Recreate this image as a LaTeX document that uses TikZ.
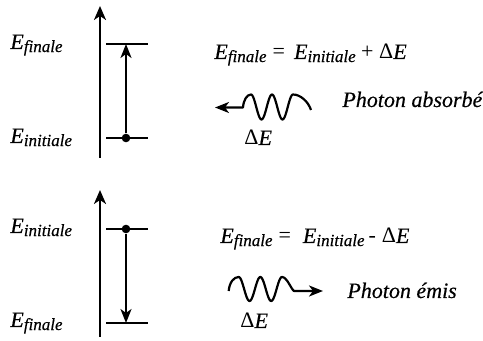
\documentclass[tikz,border=0pt]{standalone}
\usepackage{fontspec}
\setmainfont{Liberation Serif}[ItalicFeatures={FakeBold=0.4}]
\usepackage{tikz}
\usetikzlibrary{arrows.meta}
\newcommand{\Esub}[1]{\textit{E}\raisebox{-0.3ex}{\fontsize{8.5pt}{10pt}\selectfont\itshape #1}}
\tikzset{
    level/.style={line width=1.1pt, black},
    axis/.style={line width=1.15pt, -{Stealth[length=7pt,width=6pt,inset=2pt]}},
    trans/.style={line width=1.1pt, -{Stealth[length=7pt,width=5.5pt,inset=2pt]}},
    wave/.style={line width=1.1pt, line join=round},
    dot/.style={circle, fill=black, inner sep=0pt, minimum size=4.3pt},
    elabel/.style={anchor=base west, inner sep=0pt, font=\fontsize{11pt}{13pt}\selectfont},
}

\begin{document}
\begin{tikzpicture}[x=0.5pt, y=-0.5pt]
    \useasboundingbox (0,0) rectangle (483,341);

    % energy axes
    \foreach \top/\bot/\name in {6/158/T, 190/337/B} {
        \coordinate (ax\name0) at (100,\bot);
        \coordinate (ax\name1) at (100,\top);
        \draw[axis] (ax\name0) -- (ax\name1);
    }

    % energy levels
    \foreach \y/\name in {44/fT, 138/iT, 229/iB, 323/fB} {
        \draw[level] (106,\y) -- (148,\y);
        \coordinate (\name) at (126,\y);
    }

    % level labels
    \node[elabel] (EfT) at (10,49) {\Esub{finale}};
    \node[elabel] (EiT) at (10,143) {\Esub{initiale}};
    \node[elabel] (EiB) at (10,233) {\Esub{initiale}};
    \node[elabel] (EfB) at (10,327) {\Esub{finale}};

    % transitions
    \node[dot] (dT) at (iT) {};
    \node[dot] (dB) at (iB) {};
    \draw[trans] (dT) -- (fT);
    \draw[trans] (dB) -- (fB);

    % absorption
    \node[elabel] (eqT) at (214,59) {\Esub{finale}\kern3pt = \,\Esub{initiale} + Δ\textit{E}};
    \coordinate (wT1) at (215,107.5);
    \coordinate (wT0) at (243,107.5);
    \draw[wave, {Stealth[length=7pt,width=5.5pt,inset=2pt]}-] (wT1) -- (wT0)
        .. controls (243.5,100) and (247,94.5) .. (251,94.5)
        -- plot[domain=0:2, samples=60] ({251+21*\x}, {107-12.5*cos(360*\x)})
        .. controls (300,94.5) and (308,101) .. (311,110);
    \node[elabel] (dET) at (244,145) {Δ\textit{E}};
    \node[elabel] (phT) at (342,107) {\textit{Photon absorbé}};

    % emission
    \node[elabel] (eqB) at (220,243) {\Esub{finale}\kern3pt =\hspace{6pt}\Esub{initiale}\kern2pt-\hspace{3pt}Δ\textit{E}};
    \coordinate (wB0) at (228.7,291);
    \coordinate (wB1) at (323,291);
    \draw[wave, -{Stealth[length=7pt,width=5.5pt,inset=2pt]}] (wB0)
        .. controls (229.5,282) and (234,277) .. (238.7,277)
        -- plot[domain=0:2, samples=60] ({238.7+21.65*\x}, {289-12*cos(360*\x)})
        .. controls (287,277) and (291,289) .. (294,291) -- (wB1);
    \node[elabel] (dEB) at (240,328) {Δ\textit{E}};
    \node[elabel] (phB) at (347,298) {\textit{Photon émis}};
\end{tikzpicture}
\end{document}
